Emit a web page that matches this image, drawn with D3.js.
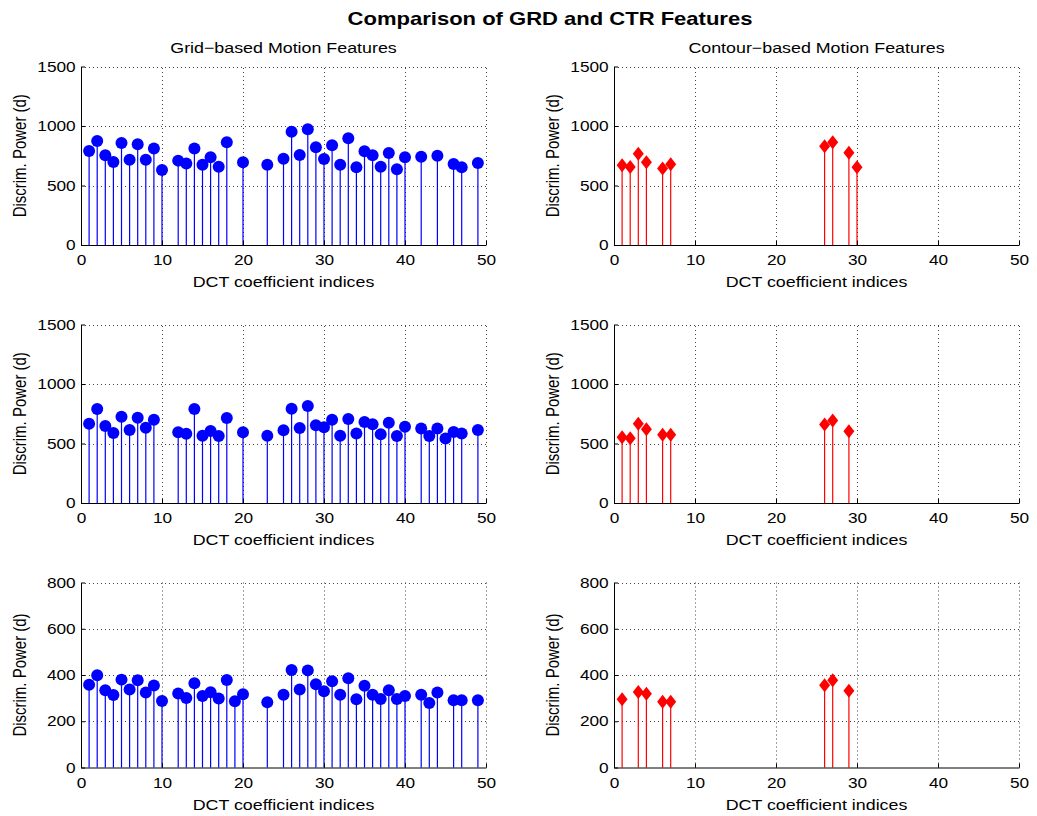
<!DOCTYPE html>
<html>
<head>
<meta charset="utf-8">
<script src="https://cdn.jsdelivr.net/npm/d3@7"></script>
<style>
  body { margin: 0; background: #fff; }
  svg text { font-family: "Liberation Sans", Arial, Helvetica, sans-serif; fill: #000; }
</style>
</head>
<body>
<svg id="fig" width="1037" height="816"></svg>
<script>
// ---- Data: discriminative power per DCT coefficient index ----
// Grid-based (GRD) features, three rows
const grdIdx1 = [1,2,3,4,5,6,7,8,9,10,12,13,14,15,16,17,18,20,23,25,26,27,28,29,30,31,32,33,34,35,36,37,38,39,40,42,44,46,47,49];
const grdVal1 = [790,874,754,697,857,717,846,717,810,630,709,684,810,675,737,658,863,695,675,725,952,756,972,821,723,838,675,897,653,787,754,658,773,636,737,742,750,681,653,689];

const grdIdx2 = [1,2,3,4,5,6,7,8,9,12,13,14,15,16,17,18,20,23,25,26,27,28,29,30,31,32,33,34,35,36,37,38,39,40,42,43,44,45,46,47,49];
const grdVal2 = [666,790,647,588,725,613,717,633,700,594,582,790,566,605,563,714,594,566,611,792,630,815,653,636,700,566,706,585,681,661,577,675,563,641,627,563,627,543,597,585,613];

const grdIdx3 = [1,2,3,4,5,6,7,8,9,10,12,13,14,15,16,17,18,19,20,23,25,26,27,28,29,30,31,32,33,34,35,36,37,38,39,40,42,43,44,46,47,49];
const grdVal3 = [358,399,334,314,380,337,377,324,355,288,320,301,364,309,325,298,378,286,317,282,315,422,337,420,360,330,373,315,386,295,354,315,296,334,296,309,315,279,324,291,291,291];

// Contour-based (CTR) features, three rows
const ctrIdx1 = [1,2,3,4,6,7,26,27,29,30];
const ctrVal1 = [670,655,767,695,642,678,829,863,776,653];

const ctrIdx2 = [1,2,3,4,6,7,26,27,29];
const ctrVal2 = [553,545,665,620,573,573,660,693,603];

const ctrIdx3 = [1,3,4,6,7,26,27,29];
const ctrVal3 = [295,326,319,284,284,356,377,332];

// Axis ticks and labels
const xTicks = [0,10,20,30,40,50];
const yTicksHi = [0,500,1000,1500];
const yTicksLo = [0,200,400,600,800];
const figTitle = "Comparison of GRD and CTR Features";
const colTitles = ["Grid\u2212based Motion Features", "Contour\u2212based Motion Features"];
const xLabel = "DCT coefficient indices";
const yLabel = "Discrim. Power (d)";

// ---- Layout ----
const SX = 1.19;          // horizontal text stretch of the figure
const cols = [{x0: 81, x1: 486}, {x0: 614, x1: 1019}];
const rows = [{top: 66.5, bottom: 245}, {top: 324.5, bottom: 503}, {top: 582.5, bottom: 767.5}];

const panels = [
  {row: 0, col: 0, idx: grdIdx1, val: grdVal1, kind: "grd", yt: yTicksHi},
  {row: 0, col: 1, idx: ctrIdx1, val: ctrVal1, kind: "ctr", yt: yTicksHi},
  {row: 1, col: 0, idx: grdIdx2, val: grdVal2, kind: "grd", yt: yTicksHi},
  {row: 1, col: 1, idx: ctrIdx2, val: ctrVal2, kind: "ctr", yt: yTicksHi},
  {row: 2, col: 0, idx: grdIdx3, val: grdVal3, kind: "grd", yt: yTicksLo},
  {row: 2, col: 1, idx: ctrIdx3, val: ctrVal3, kind: "ctr", yt: yTicksLo}
];

const svg = d3.select("#fig");

function addText(parent, x, y, str, size, weight, rotated) {
  return parent.append("text")
    .attr("transform", rotated
      ? `translate(${x},${y}) rotate(-90) scale(1,${SX})`
      : `translate(${x},${y}) scale(${SX},1)`)
    .attr("text-anchor", "middle")
    .style("font-size", size + "px")
    .style("font-weight", weight || "normal")
    .text(str);
}

const snap = v => Math.round(v) + 0.5;

// Figure title and column titles
addText(svg, 550, 25, figTitle, 18.5, "bold");
colTitles.forEach((t, i) => addText(svg, (cols[i].x0 + cols[i].x1) / 2, 52.5, t, 15));

panels.forEach(p => {
  const c = cols[p.col], r = rows[p.row];
  const x = d3.scaleLinear().domain([0, 50]).range([c.x0, c.x1]);
  const y = d3.scaleLinear().domain([0, d3.max(p.yt)]).range([r.bottom, r.top]);
  const g = svg.append("g");
  const color = p.kind === "grd" ? "#0000ff" : "#ff0000";

  // dotted grid
  const grid = g.append("g").attr("stroke", "#444").attr("stroke-width", 1)
    .attr("stroke-dasharray", "1,3");
  grid.selectAll("line.v").data(xTicks.filter(d => d > 0)).join("line")
    .attr("class", "v")
    .attr("x1", d => snap(x(d))).attr("x2", d => snap(x(d)))
    .attr("y1", r.bottom).attr("y2", r.top);
  grid.selectAll("line.h").data(p.yt.filter(d => d > 0)).join("line")
    .attr("class", "h")
    .attr("x1", c.x0).attr("x2", c.x1)
    .attr("y1", d => snap(y(d))).attr("y2", d => snap(y(d)));

  const pts = p.idx.map((d, i) => ({i: d, v: p.val[i]}));

  // stems
  g.append("g").selectAll("line").data(pts).join("line")
    .attr("x1", d => x(d.i)).attr("x2", d => x(d.i))
    .attr("y1", y(0)).attr("y2", d => y(d.v))
    .attr("stroke", color).attr("stroke-width", 1.2);

  // axes
  const ax = g.append("g").attr("transform", `translate(0,${r.bottom})`)
    .call(d3.axisBottom(x).tickValues(xTicks).tickSizeInner(-4).tickSizeOuter(0).tickPadding(10));
  const ay = g.append("g").attr("transform", `translate(${c.x0},0)`)
    .call(d3.axisLeft(y).tickValues(p.yt).tickFormat(d3.format("d")).tickSizeInner(-4).tickSizeOuter(0).tickPadding(4.5));
  [ax, ay].forEach(a => {
    a.attr("font-family", null).attr("font-size", null);
    a.select(".domain").attr("stroke", "#000");
    a.selectAll(".tick line").attr("stroke", "#000");
    a.selectAll(".tick text").attr("transform", `scale(${SX},1)`)
      .style("font-size", "14.5px").attr("fill", "#000");
  });

  // markers
  const mk = g.append("g").attr("fill", color);
  if (p.kind === "grd") {
    mk.selectAll("circle").data(pts).join("circle")
      .attr("cx", d => x(d.i)).attr("cy", d => y(d.v)).attr("r", 6);
  } else {
    const hw = 5.5, hh = 7;
    mk.selectAll("path").data(pts).join("path")
      .attr("d", d => {
        const cx = x(d.i), cy = y(d.v);
        return `M${cx},${cy - hh}L${cx + hw},${cy}L${cx},${cy + hh}L${cx - hw},${cy}Z`;
      });
  }

  // axis labels
  addText(g, (c.x0 + c.x1) / 2, r.bottom + 42, xLabel, 15);
  addText(g, c.x0 - 55.5, (r.top + r.bottom) / 2, yLabel, 15, "normal", true);
});
</script>
</body>
</html>
